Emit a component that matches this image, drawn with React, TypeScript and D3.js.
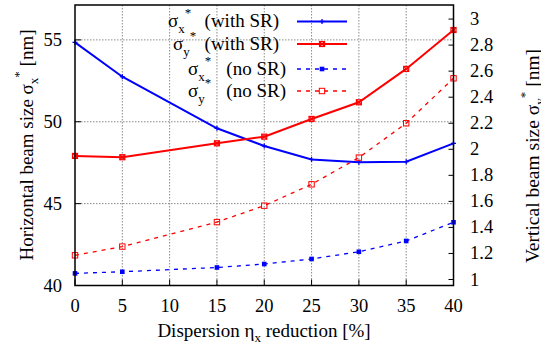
import React from 'react';
import * as d3 from 'd3';

const xValues = [0, 5, 15, 20, 25, 30, 35, 40];
const sigmaXWithSR = [54.85, 52.75, 49.6, 48.52, 47.7, 47.52, 47.56, 48.68];
const sigmaYWithSR = [1.949, 1.939, 2.046, 2.097, 2.233, 2.361, 2.617, 2.916];
const sigmaXNoSR = [40.74, 40.84, 41.1, 41.31, 41.62, 42.06, 42.72, 43.86];
const sigmaYNoSR = [1.186, 1.253, 1.441, 1.567, 1.731, 1.936, 2.2, 2.545];

const xTicks = [0, 5, 10, 15, 20, 25, 30, 35, 40];
const yLeftTicks = [40, 45, 50, 55];
const yRightTicks = [1, 1.2, 1.4, 1.6, 1.8, 2, 2.2, 2.4, 2.6, 2.8, 3];
const yRightTickLabels = ['1', '1.2', '1.4', '1.6', '1.8', '2', '2.2', '2.4', '2.6', '2.8', '3'];

const FONT = '"Liberation Serif", "Times New Roman", Times, "Nimbus Roman", "DejaVu Serif", serif';
const BLUE = '#0000ff';
const RED = '#ff0000';

export default function App() {
  const W = 541, H = 349;
  const L = 75, R = 453.5, T = 5, B = 285.5;
  const x = d3.scaleLinear().domain([0, 40]).range([L, R]);
  const yL = d3.scaleLinear().domain([40, 57.13]).range([B, T]);
  const yR = d3.scaleLinear().domain([0.954, 3.108]).range([B, T]);

  const mkLine = (ys: number[], sc: d3.ScaleLinear<number, number>) =>
    d3.line<number>().x((_, i) => x(xValues[i])).y(d => sc(d))(ys) || '';

  const series = [
    { vals: sigmaXWithSR, sc: yL, color: BLUE, dash: undefined, w: 2, marker: 'plus', sub: 'x', rest: '(with SR)', sx: 168, restEnd: 279 },
    { vals: sigmaYWithSR, sc: yR, color: RED, dash: undefined, w: 2, marker: 'boxx', sub: 'y', rest: '(with SR)', sx: 173, restEnd: 279 },
    { vals: sigmaXNoSR, sc: yL, color: BLUE, dash: '4,5', w: 1.3, marker: 'fill', sub: 'x', rest: '(no SR)', sx: 188, restEnd: 286 },
    { vals: sigmaYNoSR, sc: yR, color: RED, dash: '4,5', w: 1.3, marker: 'open', sub: 'y', rest: '(no SR)', sx: 188, restEnd: 286 },
  ];

  const drawMarker = (kind: string, cx: number, cy: number, color: string, key: string) => {
    if (kind === 'plus') {
      return (
        <g key={key} stroke={color} strokeWidth={1.3}>
          <line x1={cx - 2.5} x2={cx + 2.5} y1={cy} y2={cy} />
          <line x1={cx} x2={cx} y1={cy - 2.5} y2={cy + 2.5} />
        </g>
      );
    }
    if (kind === 'boxx') {
      return (
        <g key={key} stroke={color} strokeWidth={1.2} fill="none">
          <rect x={cx - 2.5} y={cy - 2.5} width={5} height={5} />
          <line x1={cx - 2.5} x2={cx + 2.5} y1={cy - 2.5} y2={cy + 2.5} />
          <line x1={cx - 2.5} x2={cx + 2.5} y1={cy + 2.5} y2={cy - 2.5} />
        </g>
      );
    }
    if (kind === 'fill') {
      return <rect key={key} x={cx - 2.3} y={cy - 2.3} width={4.6} height={4.6} fill={color} />;
    }
    return <rect key={key} x={cx - 2.7} y={cy - 2.7} width={5.4} height={5.4} fill="none" stroke={color} strokeWidth={1} />;
  };

  const rowBase = [27, 50, 75, 97];
  const rowLine = [21.5, 44, 69, 91];

  return (
    <svg width={W} height={H} style={{ position: 'absolute', left: 0, top: 0, background: '#fff', fontFamily: FONT }}>
      <rect x={0} y={0} width={W} height={H} fill="#fff" />
      {/* grid */}
      <g stroke="#8a8a8a" strokeWidth={1} strokeDasharray="1.5,1.5">
        {xTicks.filter(t => t > 0 && t < 40).map(t => (
          <line key={'gx' + t} x1={x(t)} x2={x(t)} y1={T} y2={B} />
        ))}
        {yLeftTicks.filter(t => t > 40).map(t => (
          <line key={'gy' + t} x1={L} x2={R} y1={yL(t)} y2={yL(t)} />
        ))}
      </g>
      {/* ticks */}
      <g stroke="#000" strokeWidth={1}>
        {xTicks.map(t => (
          <line key={'tx' + t} x1={x(t)} x2={x(t)} y1={B} y2={B - 6} />
        ))}
        {yLeftTicks.map(t => (
          <line key={'tl' + t} x1={L} x2={L + 6} y1={yL(t)} y2={yL(t)} />
        ))}
        {yRightTicks.map(t => (
          <line key={'tr' + t} x1={R} x2={R - 5} y1={yR(t)} y2={yR(t)} />
        ))}
      </g>
      {/* tick labels */}
      <g fontSize={18.5} fill="#000" style={{ fontFamily: FONT }}>
        {xTicks.map(t => (
          <text key={'lx' + t} x={x(t)} y={312} textAnchor="middle">{t}</text>
        ))}
        {yLeftTicks.map(t => (
          <text key={'ll' + t} x={62} y={yL(t) + 6} textAnchor="end">{t}</text>
        ))}
        {yRightTicks.map((t, i) => (
          <text key={'lr' + t} x={470} y={yR(t) + 6} textAnchor="start">{yRightTickLabels[i]}</text>
        ))}
      </g>
      {/* axis labels */}
      <text x={264} y={337} textAnchor="middle" fontSize={19} style={{ fontFamily: FONT }}>
        Dispersion η<tspan fontSize={13} dy={5}>x</tspan><tspan dy={-5}> reduction [%]</tspan>
      </text>
      <text transform={`translate(33,145) rotate(-90)`} textAnchor="middle" fontSize={19} style={{ fontFamily: FONT }}>
        Horizontal beam size σ<tspan fontSize={13} dy={5}>x</tspan><tspan fontSize={13} dy={-15}>*</tspan><tspan dy={10}>{'  [nm]'}</tspan>
      </text>
      <text transform={`translate(539,156) rotate(-90)`} textAnchor="middle" fontSize={19.5} style={{ fontFamily: FONT }}>
        Vertical beam size σ<tspan fontSize={13} dy={5}>y</tspan><tspan fontSize={13} dy={-15}>*</tspan><tspan dy={10}>{'  [nm]'}</tspan>
      </text>
      {/* series */}
      {series.map((s, si) => (
        <g key={'s' + si}>
          <path d={mkLine(s.vals, s.sc)} fill="none" stroke={s.color} strokeWidth={s.w} strokeDasharray={s.dash} />
          {s.vals.map((v, i) => drawMarker(s.marker, x(xValues[i]), s.sc(v), s.color, 'm' + si + '-' + i))}
        </g>
      ))}
      {/* legend */}
      {series.map((s, si) => (
        <g key={'lg' + si}>
          <text x={s.sx} y={rowBase[si]} fontSize={19} style={{ fontFamily: FONT }}>
            σ<tspan fontSize={13} dy={6}>{s.sub}</tspan><tspan fontSize={13} dy={-16}>*</tspan>
          </text>
          <text x={s.restEnd} y={rowBase[si]} fontSize={19} textAnchor="end" style={{ fontFamily: FONT }}>{s.rest}</text>
          <line x1={297} x2={347} y1={rowLine[si]} y2={rowLine[si]} stroke={s.color} strokeWidth={s.w} strokeDasharray={s.dash} />
          {drawMarker(s.marker, 322, rowLine[si], s.color, 'lm' + si)}
        </g>
      ))}
      {/* frame */}
      <rect x={L} y={T} width={R - L} height={B - T} fill="none" stroke="#000" strokeWidth={1.5} />
    </svg>
  );
}
